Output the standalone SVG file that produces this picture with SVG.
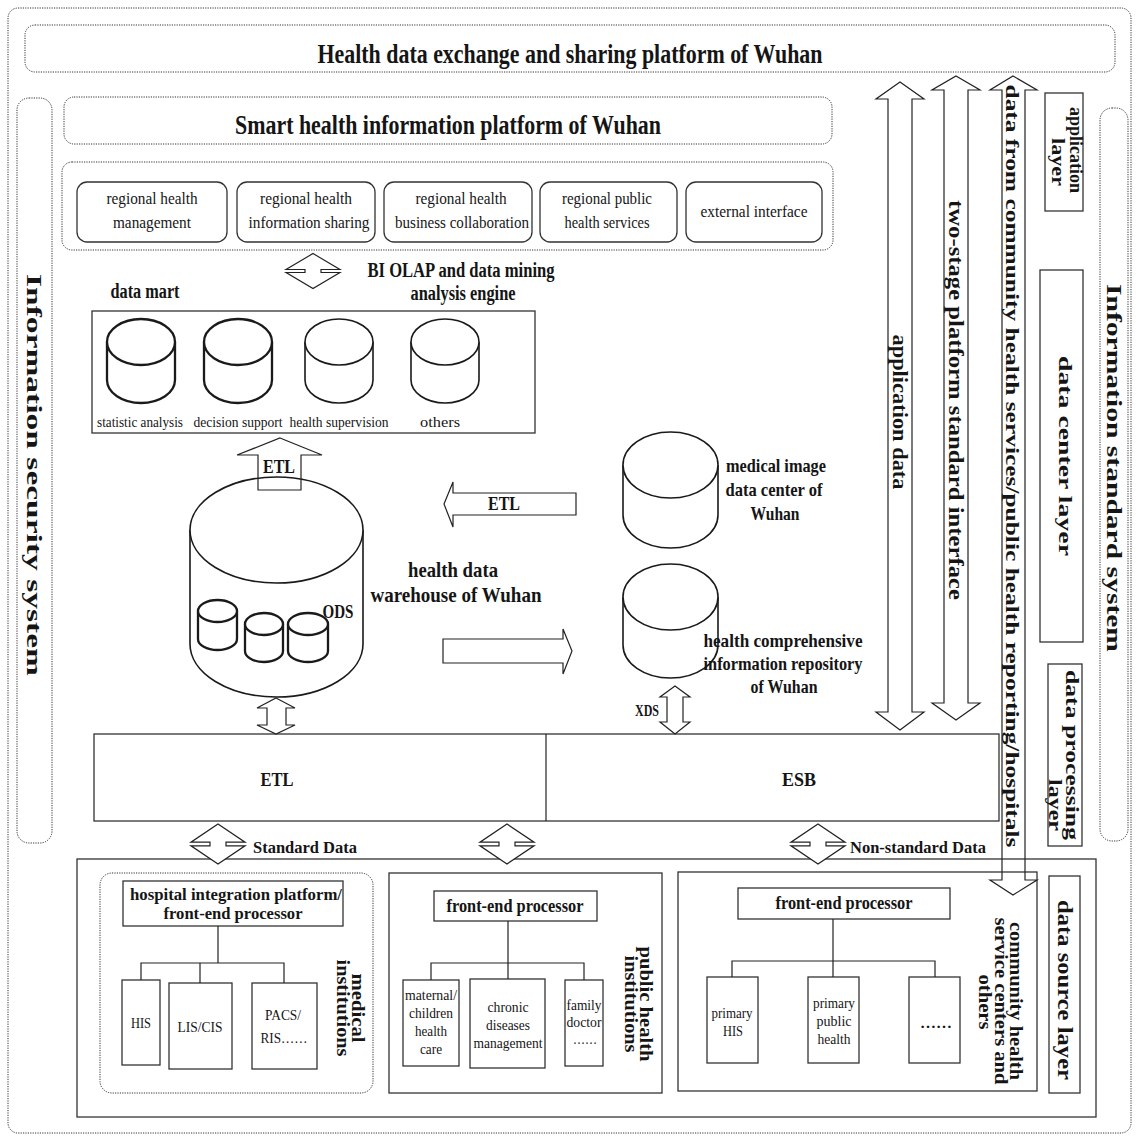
<svg xmlns="http://www.w3.org/2000/svg" xmlns:xlink="http://www.w3.org/1999/xlink" width="1136" height="1138" viewBox="0 0 1136 1138">
  <style>
    text { font-family: "Liberation Serif", "Times New Roman", serif; fill: #151515; }
    .b { font-weight: bold; }
    .dot { fill: none; stroke: #333; stroke-width: 1; stroke-dasharray: 1.2 1.2; }
    .box { fill: #fff; stroke: #333; stroke-width: 1.3; }
    .frame { fill: none; stroke: #333; stroke-width: 1.3; }
    .cyl { fill: #fff; stroke: #1a1a1a; stroke-width: 1.6; }
    .cyl2 { fill: #fff; stroke: #1a1a1a; stroke-width: 2.3; }
    .arr { fill: none; stroke: #222; stroke-width: 1.2; stroke-linejoin: miter; }
    .arrw { fill: #fff; stroke: #222; stroke-width: 1.2; }
    .ln { fill: none; stroke: #222; stroke-width: 1.2; }
  </style>
  <defs>
    <!-- notched up/down double arrow, centred on its origin -->
    <path id="dbl" d="M0,-19 L27,-1.7 L8,-1.7 L8,1.7 L27,1.7 L0,19 L-27,1.7 L-8,1.7 L-8,-1.7 L-27,-1.7 Z"/>
  </defs>

  <rect width="1136" height="1138" fill="#fff"/>

  <!-- outer border -->
  <rect class="dot" x="8" y="8" width="1123" height="1125" rx="10"/>

  <!-- exchange platform header -->
  <g id="exchange-platform">
    <rect class="dot" x="25" y="25" width="1090" height="47" rx="10"/>
    <text class="b" x="570" y="63" font-size="28" text-anchor="middle" textLength="505" lengthAdjust="spacingAndGlyphs">Health data exchange and sharing platform of Wuhan</text>
  </g>

  <!-- security column -->
  <g id="security-system">
    <rect class="dot" x="17" y="98" width="35" height="745" rx="12"/>
    <text class="b" transform="translate(35,475) rotate(90)" y="7.7" font-size="22" text-anchor="middle" textLength="402" lengthAdjust="spacingAndGlyphs">Information security system</text>
  </g>

  <!-- smart platform header -->
  <g id="smart-platform">
    <rect class="dot" x="64" y="97" width="768" height="47" rx="10"/>
    <text class="b" x="448" y="134" font-size="27" text-anchor="middle" textLength="426" lengthAdjust="spacingAndGlyphs">Smart health information platform of Wuhan</text>
  </g>

  <!-- application modules -->
  <g id="modules">
    <rect class="dot" x="62" y="162" width="771" height="88" rx="10"/>
    <g id="mod-management">
      <rect class="box" x="77" y="182" width="150" height="60" rx="10"/>
      <text x="152" y="204" font-size="16" text-anchor="middle" textLength="91" lengthAdjust="spacingAndGlyphs">regional health</text>
      <text x="152" y="228" font-size="16" text-anchor="middle" textLength="78" lengthAdjust="spacingAndGlyphs">management</text>
    </g>
    <g id="mod-sharing">
      <rect class="box" x="237" y="182" width="138" height="60" rx="10"/>
      <text x="306" y="204" font-size="16" text-anchor="middle" textLength="92" lengthAdjust="spacingAndGlyphs">regional health</text>
      <text x="309" y="228" font-size="16" text-anchor="middle" textLength="121" lengthAdjust="spacingAndGlyphs">information sharing</text>
    </g>
    <g id="mod-collaboration">
      <rect class="box" x="384" y="182" width="148" height="60" rx="10"/>
      <text x="461" y="204" font-size="16" text-anchor="middle" textLength="91" lengthAdjust="spacingAndGlyphs">regional health</text>
      <text x="462" y="228" font-size="16" text-anchor="middle" textLength="134" lengthAdjust="spacingAndGlyphs">business collaboration</text>
    </g>
    <g id="mod-public">
      <rect class="box" x="540" y="182" width="137" height="60" rx="10"/>
      <text x="607" y="204" font-size="16" text-anchor="middle" textLength="90" lengthAdjust="spacingAndGlyphs">regional public</text>
      <text x="607" y="228" font-size="16" text-anchor="middle" textLength="85" lengthAdjust="spacingAndGlyphs">health services</text>
    </g>
    <g id="mod-interface">
      <rect class="box" x="686" y="182" width="136" height="60" rx="10"/>
      <text x="754" y="217" font-size="16" text-anchor="middle" textLength="107" lengthAdjust="spacingAndGlyphs">external interface</text>
    </g>
  </g>

  <!-- analysis engine label -->
  <g id="bi-engine">
    <text class="b" x="461" y="277" font-size="20" text-anchor="middle" textLength="187" lengthAdjust="spacingAndGlyphs">BI OLAP and data mining</text>
    <text class="b" x="463" y="300" font-size="20" text-anchor="middle" textLength="105" lengthAdjust="spacingAndGlyphs">analysis engine</text>
  </g>

  <!-- data mart -->
  <g id="data-mart">
    <text class="b" x="145" y="298" font-size="20" text-anchor="middle" textLength="69" lengthAdjust="spacingAndGlyphs">data mart</text>
    <rect class="frame" x="92" y="311" width="443" height="122"/>
    <g id="mart-statistic">
      <path class="cyl2" d="M107,342 V380 A34,23 0 0 0 175,380 V342"/>
      <ellipse class="cyl2" cx="141" cy="342" rx="34" ry="23"/>
      <text x="140" y="427" font-size="14" text-anchor="middle" textLength="86" lengthAdjust="spacingAndGlyphs">statistic analysis</text>
    </g>
    <g id="mart-decision">
      <path class="cyl2" d="M204,342 V380 A34,23 0 0 0 272,380 V342"/>
      <ellipse class="cyl2" cx="238" cy="342" rx="34" ry="23"/>
      <text x="238" y="427" font-size="14" text-anchor="middle" textLength="89" lengthAdjust="spacingAndGlyphs">decision support</text>
    </g>
    <g id="mart-supervision">
      <path class="cyl" d="M305,342 V380 A34,23 0 0 0 373,380 V342"/>
      <ellipse class="cyl" cx="339" cy="342" rx="34" ry="23"/>
      <text x="339" y="427" font-size="14" text-anchor="middle" textLength="99" lengthAdjust="spacingAndGlyphs">health supervision</text>
    </g>
    <g id="mart-others">
      <path class="cyl" d="M411,342 V380 A34,23 0 0 0 479,380 V342"/>
      <ellipse class="cyl" cx="445" cy="342" rx="34" ry="23"/>
      <text x="440" y="427" font-size="14" text-anchor="middle" textLength="40" lengthAdjust="spacingAndGlyphs">others</text>
    </g>
  </g>

  <!-- health data warehouse with ODS -->
  <g id="warehouse">
    <path class="cyl" d="M190,530 V644 A86.5,53 0 0 0 363,644 V530"/>
    <ellipse class="cyl" cx="276.5" cy="530" rx="86.5" ry="53"/>
    <g id="ods-1">
      <path class="cyl2" d="M198,611 V639 A19.5,11 0 0 0 237,639 V611"/>
      <ellipse class="cyl2" cx="217.5" cy="611" rx="19.5" ry="11"/>
    </g>
    <g id="ods-2">
      <path class="cyl2" d="M245,624 V651 A19,11 0 0 0 283,651 V624"/>
      <ellipse class="cyl2" cx="264" cy="624" rx="19" ry="11"/>
    </g>
    <g id="ods-3">
      <path class="cyl2" d="M288,624 V651 A20,11 0 0 0 328,651 V624"/>
      <ellipse class="cyl2" cx="308" cy="624" rx="20" ry="11"/>
    </g>
    <text class="b" x="338" y="618" font-size="19" text-anchor="middle" textLength="31" lengthAdjust="spacingAndGlyphs">ODS</text>
    <text class="b" x="453" y="577" font-size="21" text-anchor="middle" textLength="90" lengthAdjust="spacingAndGlyphs">health data</text>
    <text class="b" x="456" y="602" font-size="21" text-anchor="middle" textLength="171" lengthAdjust="spacingAndGlyphs">warehouse of Wuhan</text>
  </g>

  <!-- medical image data center -->
  <g id="image-center">
    <path class="cyl" d="M623,465 V515 A47.5,33 0 0 0 718,515 V465"/>
    <ellipse class="cyl" cx="670.5" cy="465" rx="47.5" ry="33"/>
    <text class="b" x="776" y="472" font-size="19" text-anchor="middle" textLength="100" lengthAdjust="spacingAndGlyphs">medical image</text>
    <text class="b" x="774" y="496" font-size="19" text-anchor="middle" textLength="97" lengthAdjust="spacingAndGlyphs">data center of</text>
    <text class="b" x="775" y="520" font-size="19" text-anchor="middle" textLength="49" lengthAdjust="spacingAndGlyphs">Wuhan</text>
  </g>

  <!-- comprehensive information repository -->
  <g id="repository">
    <path class="cyl" d="M623,597 V645 A47.5,33 0 0 0 718,645 V597"/>
    <ellipse class="cyl" cx="670.5" cy="597" rx="47.5" ry="33"/>
    <text class="b" x="783" y="647" font-size="19" text-anchor="middle" textLength="159" lengthAdjust="spacingAndGlyphs">health comprehensive</text>
    <text class="b" x="783" y="670" font-size="19" text-anchor="middle" textLength="159" lengthAdjust="spacingAndGlyphs">information repository</text>
    <text class="b" x="784" y="693" font-size="19" text-anchor="middle" textLength="67" lengthAdjust="spacingAndGlyphs">of Wuhan</text>
  </g>

  <!-- ETL / ESB bar -->
  <g id="etl-esb">
    <rect class="frame" x="94" y="734" width="905" height="87"/>
    <line class="ln" x1="546" y1="734" x2="546" y2="821"/>
    <text class="b" x="277" y="786" font-size="18" text-anchor="middle" textLength="33" lengthAdjust="spacingAndGlyphs">ETL</text>
    <text class="b" x="799" y="786" font-size="18" text-anchor="middle" textLength="34" lengthAdjust="spacingAndGlyphs">ESB</text>
  </g>

  <!-- right-hand layer labels -->
  <g id="layer-application">
    <rect class="frame" x="1045" y="93" width="38" height="118"/>
    <text class="b" transform="translate(1077,150) rotate(90)" y="6.6" font-size="19" text-anchor="middle" textLength="86" lengthAdjust="spacingAndGlyphs">application</text>
    <text class="b" transform="translate(1059,162) rotate(90)" y="6.6" font-size="19" text-anchor="middle" textLength="48" lengthAdjust="spacingAndGlyphs">layer</text>
  </g>
  <g id="layer-datacenter">
    <rect class="frame" x="1040" y="270" width="43" height="372"/>
    <text class="b" transform="translate(1066,456) rotate(90)" y="6.6" font-size="19" text-anchor="middle" textLength="200" lengthAdjust="spacingAndGlyphs">data center  layer</text>
  </g>
  <g id="layer-processing">
    <rect class="frame" x="1048" y="664" width="34" height="182"/>
    <text class="b" transform="translate(1073,755) rotate(90)" y="6.6" font-size="19" text-anchor="middle" textLength="170" lengthAdjust="spacingAndGlyphs">data processing</text>
    <text class="b" transform="translate(1056,805) rotate(90)" y="6.6" font-size="19" text-anchor="middle" textLength="52" lengthAdjust="spacingAndGlyphs">layer</text>
  </g>
  <g id="standard-system">
    <rect class="dot" x="1100" y="108" width="28" height="733" rx="12"/>
    <text class="b" transform="translate(1115,468) rotate(90)" y="7.7" font-size="22" text-anchor="middle" textLength="368" lengthAdjust="spacingAndGlyphs">Information standard system</text>
  </g>

  <!-- data source layer -->
  <g id="data-sources">
    <rect class="frame" x="77" y="859" width="1019" height="258"/>

    <g id="medical-institutions">
      <rect class="dot" x="100" y="873" width="273" height="220" rx="12"/>
      <g id="hospital-platform">
        <rect class="box" x="123" y="881" width="220" height="45"/>
        <text class="b" x="236" y="900" font-size="16" text-anchor="middle" textLength="212" lengthAdjust="spacingAndGlyphs">hospital integration platform/</text>
        <text class="b" x="233" y="919" font-size="16" text-anchor="middle" textLength="139" lengthAdjust="spacingAndGlyphs">front-end processor</text>
      </g>
      <g id="his"><rect class="box" x="122" y="980" width="38" height="85"/>
        <text x="141" y="1028" font-size="15" text-anchor="middle" textLength="20" lengthAdjust="spacingAndGlyphs">HIS</text></g>
      <g id="lis-cis"><rect class="box" x="169" y="983" width="63" height="86"/>
        <text x="200" y="1032" font-size="15" text-anchor="middle" textLength="45" lengthAdjust="spacingAndGlyphs">LIS/CIS</text></g>
      <g id="pacs-ris"><rect class="box" x="252" y="983" width="65" height="86"/>
        <text x="283" y="1020" font-size="15" text-anchor="middle" textLength="36" lengthAdjust="spacingAndGlyphs">PACS/</text>
        <text x="284" y="1043" font-size="15" text-anchor="middle" textLength="47" lengthAdjust="spacingAndGlyphs">RIS……</text></g>
      <text class="b" transform="translate(358,1008) rotate(90)" y="6.3" font-size="18" text-anchor="middle" textLength="69" lengthAdjust="spacingAndGlyphs">medical</text>
      <text class="b" transform="translate(343,1008) rotate(90)" y="6.3" font-size="18" text-anchor="middle" textLength="97" lengthAdjust="spacingAndGlyphs">institutions</text>
    </g>

    <g id="public-health-institutions">
      <rect class="frame" x="389" y="873" width="273" height="220"/>
      <g id="public-fep">
        <rect class="box" x="434" y="891" width="163" height="30"/>
        <text class="b" x="515" y="912" font-size="18" text-anchor="middle" textLength="137" lengthAdjust="spacingAndGlyphs">front-end processor</text>
      </g>
      <g id="maternal"><rect class="box" x="403" y="980" width="56" height="86"/>
        <text x="431" y="1000" font-size="15" text-anchor="middle" textLength="52" lengthAdjust="spacingAndGlyphs">maternal/</text>
        <text x="431" y="1018" font-size="15" text-anchor="middle" textLength="44" lengthAdjust="spacingAndGlyphs">children</text>
        <text x="431" y="1036" font-size="15" text-anchor="middle" textLength="32" lengthAdjust="spacingAndGlyphs">health</text>
        <text x="431" y="1054" font-size="15" text-anchor="middle" textLength="22" lengthAdjust="spacingAndGlyphs">care</text></g>
      <g id="chronic"><rect class="box" x="470" y="979" width="75" height="89"/>
        <text x="508" y="1012" font-size="15" text-anchor="middle" textLength="41" lengthAdjust="spacingAndGlyphs">chronic</text>
        <text x="508" y="1030" font-size="15" text-anchor="middle" textLength="44" lengthAdjust="spacingAndGlyphs">diseases</text>
        <text x="508" y="1048" font-size="15" text-anchor="middle" textLength="69" lengthAdjust="spacingAndGlyphs">management</text></g>
      <g id="family-doctor"><rect class="box" x="565" y="980" width="38" height="86"/>
        <text x="584" y="1010" font-size="15" text-anchor="middle" textLength="35" lengthAdjust="spacingAndGlyphs">family</text>
        <text x="584" y="1027" font-size="15" text-anchor="middle" textLength="35" lengthAdjust="spacingAndGlyphs">doctor</text>
        <text x="585" y="1044" font-size="15" text-anchor="middle" textLength="24" lengthAdjust="spacingAndGlyphs">……</text></g>
      <text class="b" transform="translate(646,1004) rotate(90)" y="6.3" font-size="18" text-anchor="middle" textLength="115" lengthAdjust="spacingAndGlyphs">public health</text>
      <text class="b" transform="translate(631,1004) rotate(90)" y="6.3" font-size="18" text-anchor="middle" textLength="97" lengthAdjust="spacingAndGlyphs">institutions</text>
    </g>

    <g id="community-centers">
      <rect class="frame" x="678" y="872" width="359" height="219"/>
      <g id="community-fep">
        <rect class="box" x="738" y="888" width="212" height="31"/>
        <text class="b" x="844" y="909" font-size="18" text-anchor="middle" textLength="137" lengthAdjust="spacingAndGlyphs">front-end processor</text>
      </g>
      <g id="primary-his"><rect class="box" x="707" y="977" width="51" height="86"/>
        <text x="732" y="1018" font-size="15" text-anchor="middle" textLength="41" lengthAdjust="spacingAndGlyphs">primary</text>
        <text x="733" y="1036" font-size="15" text-anchor="middle" textLength="20" lengthAdjust="spacingAndGlyphs">HIS</text></g>
      <g id="primary-public"><rect class="box" x="808" y="977" width="51" height="86"/>
        <text x="834" y="1008" font-size="15" text-anchor="middle" textLength="42" lengthAdjust="spacingAndGlyphs">primary</text>
        <text x="834" y="1026" font-size="15" text-anchor="middle" textLength="35" lengthAdjust="spacingAndGlyphs">public</text>
        <text x="834" y="1044" font-size="15" text-anchor="middle" textLength="33" lengthAdjust="spacingAndGlyphs">health</text></g>
      <g id="other-systems"><rect class="box" x="909" y="977" width="51" height="86"/>
        <text class="b" x="936" y="1028" font-size="15" text-anchor="middle" textLength="32" lengthAdjust="spacingAndGlyphs">……</text></g>
      <text class="b" transform="translate(1016,1001) rotate(90)" y="6.3" font-size="18" text-anchor="middle" textLength="158" lengthAdjust="spacingAndGlyphs">community health</text>
      <text class="b" transform="translate(1001,1001) rotate(90)" y="6.3" font-size="18" text-anchor="middle" textLength="167" lengthAdjust="spacingAndGlyphs">service centers and</text>
      <text class="b" transform="translate(985,1002) rotate(90)" y="6.3" font-size="18" text-anchor="middle" textLength="55" lengthAdjust="spacingAndGlyphs">others</text>
    </g>

    <g id="layer-source">
      <rect class="frame" x="1049" y="876" width="31" height="217"/>
      <text class="b" transform="translate(1065,990) rotate(90)" y="7" font-size="20" text-anchor="middle" textLength="180" lengthAdjust="spacingAndGlyphs">data source layer</text>
    </g>
  </g>

  <!-- connectors -->
  <g id="connectors">
    <!-- BI engine exchange -->
    <use xlink:href="#dbl" href="#dbl" class="arrw" transform="translate(313,271) scale(1,0.92)"/>
    <!-- ETL into data mart -->
    <polygon class="arr" points="280,438 322,455 301,455 301,490 258,490 258,455 237,455"/>
    <text class="b" x="279" y="473" font-size="18" text-anchor="middle" textLength="32" lengthAdjust="spacingAndGlyphs">ETL</text>
    <!-- ETL from image centre into warehouse -->
    <polygon class="arrw" points="444,504 453,482 453,493 576,493 576,515 453,515 453,527"/>
    <text class="b" x="504" y="510" font-size="18" text-anchor="middle" textLength="32" lengthAdjust="spacingAndGlyphs">ETL</text>
    <!-- warehouse to repository -->
    <polygon class="arrw" points="443,639 563,639 563,629 572,651 563,674 563,663 443,663"/>
    <!-- warehouse to ETL bar -->
    <polygon class="arrw" points="276,698 295,708 286,708 286,725 295,725 276,734 257,725 267,725 267,708 257,708"/>
    <!-- repository to ESB (XDS) -->
    <polygon class="arrw" points="675,686 690,697 683,697 683,722 690,722 675,734 660,722 667,722 667,697 660,697"/>
    <text class="b" x="647" y="716" font-size="17" text-anchor="middle" textLength="24" lengthAdjust="spacingAndGlyphs">XDS</text>
    <!-- bar to data sources -->
    <use xlink:href="#dbl" href="#dbl" class="arrw" transform="translate(218,844) scale(1,1.05)"/>
    <use xlink:href="#dbl" href="#dbl" class="arrw" transform="translate(507,844) scale(1,1.05)"/>
    <use xlink:href="#dbl" href="#dbl" class="arrw" transform="translate(818,844) scale(1,1.05)"/>
    <text class="b" x="305" y="853" font-size="17" text-anchor="middle" textLength="104" lengthAdjust="spacingAndGlyphs">Standard Data</text>
    <text class="b" x="918" y="853" font-size="17" text-anchor="middle" textLength="136" lengthAdjust="spacingAndGlyphs">Non-standard Data</text>
    <!-- application data -->
    <polygon class="arr" points="900,82 924,99 912,99 912,712 924,712 900,730 876,712 888,712 888,99 876,99"/>
    <text class="b" transform="translate(900,412) rotate(90)" y="7" font-size="20" text-anchor="middle" textLength="155" lengthAdjust="spacingAndGlyphs">application data</text>
    <!-- two-stage platform standard interface -->
    <polygon class="arr" points="956,76 980,90 968,90 968,703 980,703 956,720 932,703 944,703 944,90 932,90"/>
    <text class="b" transform="translate(956,400) rotate(90)" y="7" font-size="20" text-anchor="middle" textLength="400" lengthAdjust="spacingAndGlyphs">two-stage platform standard interface</text>
    <!-- community / public health / hospital data -->
    <polygon class="arr" points="1013,76 1037,90 1025,90 1025,880 1037,880 1013,895 990,880 1002,880 1002,90 990,90"/>
    <text class="b" transform="translate(1013,466) rotate(90)" y="6.6" font-size="19" text-anchor="middle" textLength="763" lengthAdjust="spacingAndGlyphs">data from community health services/public health reporting/hospitals</text>
    <!-- hospital tree -->
    <path class="ln" d="M218,926 V963 M141,980 V963 H284 V983 M200,963 V983"/>
    <!-- public health tree -->
    <path class="ln" d="M508,921 V979 M431,980 V963 H584 V980"/>
    <!-- community tree -->
    <path class="ln" d="M833,919 V977 M732,977 V961 H935 V977"/>
  </g>
</svg>
